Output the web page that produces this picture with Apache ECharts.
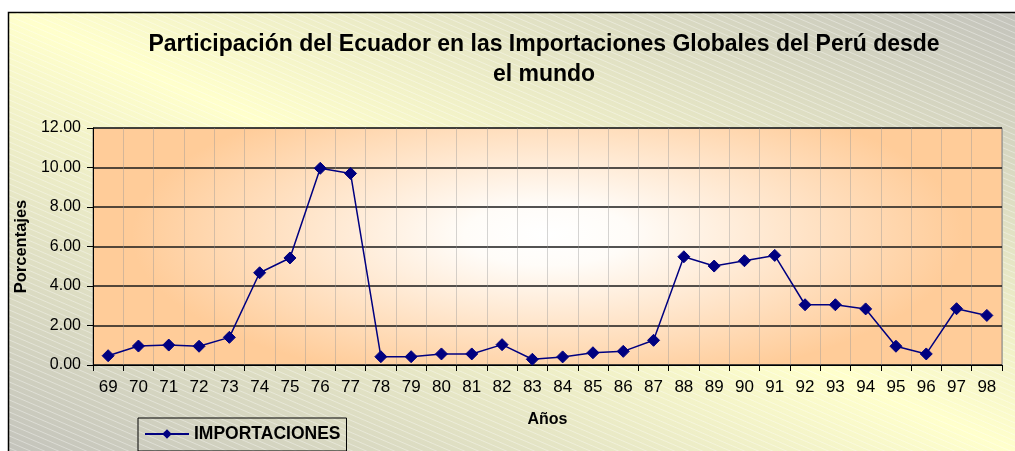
<!DOCTYPE html>
<html>
<head>
<meta charset="utf-8">
<script src="https://cdn.jsdelivr.net/npm/echarts@6/dist/echarts.min.js"></script>
<style>
html,body{margin:0;padding:0;background:#fff;}
#chart{width:1015px;height:451px;}
</style>
</head>
<body>
<div id="chart"></div>
<script>
// ---- data ----
var titleText = 'Participación del Ecuador en las Importaciones Globales del Perú desde\nel mundo';
var categories = ['69','70','71','72','73','74','75','76','77','78','79','80','81','82','83','84','85','86','87','88','89','90','91','92','93','94','95','96','97','98'];
var importaciones = [0.47,0.96,1.01,0.95,1.40,4.67,5.42,9.96,9.70,0.42,0.42,0.56,0.56,1.03,0.29,0.41,0.62,0.69,1.25,5.48,5.01,5.28,5.55,3.05,3.05,2.84,0.95,0.56,2.85,2.51];
var seriesName = 'IMPORTACIONES';
var xAxisName = 'Años';
var yAxisName = 'Porcentajes';
var yMin = 0, yMax = 12, yStep = 2;

// ---- layout ----
var W = 1015, H = 451;
var gridL = 93, gridT = 128, gridR = 1002, gridB = 365;
var gw = gridR - gridL, gh = gridB - gridT;
var FONT = '"Liberation Sans", Arial, sans-serif';

// hatch pattern
var pc = document.createElement('canvas');
pc.width = 14; pc.height = 6;
var pctx = pc.getContext('2d');
pctx.strokeStyle = 'rgba(255,255,255,0.45)';
pctx.lineWidth = 0.8;
for (var k = -1; k <= 1; k++) {
  pctx.beginPath();
  pctx.moveTo(-14, -6 + k*6);
  pctx.lineTo(28, 12 + k*6);
  pctx.stroke();
}

// background gradient (global coords)
var cx = 512, cy = 232, ux = 0.4, uy = -0.916, dist = 400;
var bgGrad = new echarts.graphic.LinearGradient(0, 0, 0, 0, [
  {offset: 0, color: '#C4C4BC'},
  {offset: 0.5, color: '#FFFFCC'},
  {offset: 1, color: '#C4C4BC'}
], true);
bgGrad.x = cx - ux*dist; bgGrad.y = cy - uy*dist;
bgGrad.x2 = cx + ux*dist; bgGrad.y2 = cy + uy*dist;

var sx = 2.7;
var plotGrad = new echarts.graphic.RadialGradient(0.5, 0.45, 0.65, [
  {offset: 0, color: '#FFFFFF'},
  {offset: 0.2, color: '#FFFCF8'},
  {offset: 1, color: '#FFCC99'}
]);

var chart = echarts.init(document.getElementById('chart'), null, {renderer: 'canvas'});
chart.setOption({
  backgroundColor: '#FFFFFF',
  animation: false,
  title: {
    text: titleText,
    left: 539,
    top: 25,
    textAlign: 'center',
    textStyle: {fontFamily: FONT, fontSize: 23, fontWeight: 'bold', color: '#000', lineHeight: 30}
  },
  graphic: {elements: [
    {type: 'rect', z: -100, silent: true, shape: {x: 8.5, y: 12.5, width: W, height: H}, style: {fill: bgGrad, stroke: '#000', lineWidth: 1.5}},
    {type: 'rect', z: -99, silent: true, shape: {x: 9.5, y: 13.5, width: W, height: H}, style: {fill: {image: pc, repeat: 'repeat'}}},
    {type: 'rect', z: -98, silent: true, x: gridL, y: gridT, scaleX: sx, scaleY: 1,
     shape: {x: 0, y: 0, width: gw / sx, height: gh}, style: {fill: plotGrad}}
  ]},
  legend: {
    left: 138, top: 418,
    padding: [7, 6, 8, 6],
    borderColor: '#000', borderWidth: 1,
    itemWidth: 44, itemHeight: 12,
    textStyle: {fontFamily: FONT, fontSize: 17.5, fontWeight: 'bold', color: '#000'},
    data: [seriesName]
  },
  grid: {
    left: gridL, top: gridT, right: W - gridR, bottom: H - gridB,
    show: true, borderColor: '#808080', borderWidth: 1, backgroundColor: 'transparent'
  },
  xAxis: {
    type: 'category', data: categories, boundaryGap: true,
    name: xAxisName, nameLocation: 'middle', nameGap: 47,
    nameTextStyle: {fontFamily: FONT, fontSize: 16, fontWeight: 'bold', color: '#000'},
    axisLine: {show: true, lineStyle: {color: '#000', width: 1}},
    axisTick: {show: true, length: 6, lineStyle: {color: '#000'}},
    axisLabel: {fontFamily: FONT, fontSize: 17, color: '#000', margin: 14, interval: 0},
    splitLine: {show: true, interval: 0, lineStyle: {color: 'rgba(150,150,150,0.4)', width: 1}}
  },
  yAxis: {
    type: 'value', min: yMin, max: yMax, interval: yStep,
    name: yAxisName, nameLocation: 'middle', nameGap: 61, nameRotate: 90,
    nameTextStyle: {fontFamily: FONT, fontSize: 16.5, fontWeight: 'bold', color: '#000'},
    axisLine: {show: true, lineStyle: {color: '#000', width: 1}},
    axisTick: {show: true, length: 6, lineStyle: {color: '#000'}},
    axisLabel: {fontFamily: FONT, fontSize: 16, color: '#000', margin: 12,
      formatter: function (v) { return v.toFixed(2); }},
    splitLine: {show: true, lineStyle: {color: '#1a1a1a', width: 1.5}}
  },
  series: [{
    name: seriesName, type: 'line', data: importaciones,
    symbol: 'diamond', symbolSize: 12,
    lineStyle: {color: '#000080', width: 1.5},
    itemStyle: {color: '#000080', borderColor: '#000080'},
    z: 5
  }]
});
</script>
</body>
</html>
